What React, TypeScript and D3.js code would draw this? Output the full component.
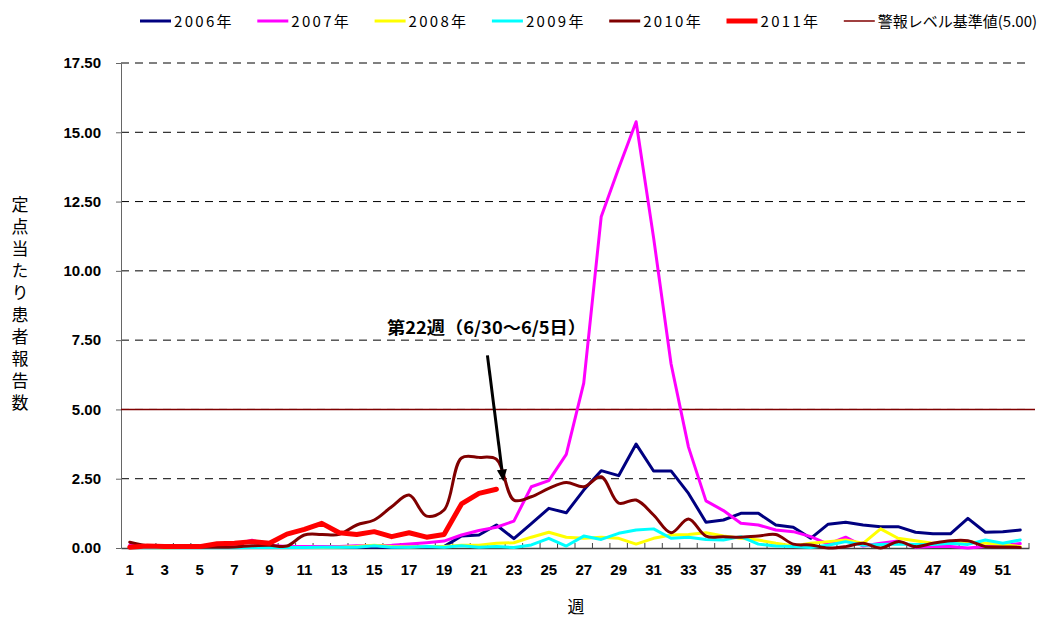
import { useEffect, useRef } from "react";
import * as d3 from "d3";

const WIDTH = 1037;
const HEIGHT = 617;
const PLOT = { left: 121, right: 1029, top: 63, bottom: 548 };

const JP_FONT = "'Noto Sans CJK JP', 'Noto Sans', sans-serif";
const NUM_FONT = "'Liberation Sans', Arial, sans-serif";

// categories / ticks
const WEEKS = [
  1, 2, 3, 4, 5, 6, 7, 8, 9, 10, 11, 12, 13, 14, 15, 16, 17, 18, 19, 20, 21, 22, 23, 24, 25, 26,
  27, 28, 29, 30, 31, 32, 33, 34, 35, 36, 37, 38, 39, 40, 41, 42, 43, 44, 45, 46, 47, 48, 49, 50, 51, 52,
];
const X_TICK_LABELS = [1, 3, 5, 7, 9, 11, 13, 15, 17, 19, 21, 23, 25, 27, 29, 31, 33, 35, 37, 39, 41, 43, 45, 47, 49, 51];
const Y_TICKS = [0, 2.5, 5, 7.5, 10, 12.5, 15, 17.5];
const ALERT_LEVEL = 5;

// series values (per-sentinel reports, weeks 1..52)
const Y2006 = [
  0.03, 0.02, 0.02, 0.03, 0.02, 0.02, 0.03, 0.02, 0.02, 0.03, 0.02, 0.03, 0.02, 0.03, 0.03, 0.02, 0.03, 0.04,
  0.05, 0.43, 0.47, 0.83, 0.34, 0.88, 1.43, 1.27, 2.09, 2.79, 2.61, 3.75, 2.78, 2.78, 1.97, 0.93, 1.01, 1.25,
  1.25, 0.83, 0.75, 0.35, 0.86, 0.93, 0.83, 0.77, 0.77, 0.57, 0.51, 0.51, 1.07, 0.57, 0.59, 0.65,
];
const Y2007 = [
  0.1, 0.08, 0.08, 0.08, 0.08, 0.1, 0.12, 0.28, 0.1, 0.05, 0.05, 0.05, 0.05, 0.08, 0.08, 0.1, 0.14, 0.19,
  0.25, 0.47, 0.63, 0.75, 0.97, 2.21, 2.43, 3.38, 5.95, 11.95, 13.7, 15.38, 11.2, 6.65, 3.64, 1.7, 1.35, 0.89,
  0.83, 0.65, 0.59, 0.41, 0.14, 0.39, 0.07, 0.17, 0.25, 0.03, 0.05, 0.05, 0.0, 0.05, 0.08, 0.16,
];
const Y2008 = [
  0.02, 0.02, 0.01, 0.02, 0.02, 0.03, 0.03, 0.02, 0.03, 0.02, 0.02, 0.02, 0.03, 0.05, 0.1, 0.05, 0.04, 0.05,
  0.05, 0.1, 0.1, 0.17, 0.19, 0.39, 0.57, 0.39, 0.35, 0.39, 0.35, 0.14, 0.35, 0.47, 0.49, 0.55, 0.43, 0.35,
  0.29, 0.17, 0.07, 0.17, 0.23, 0.29, 0.17, 0.69, 0.35, 0.26, 0.17, 0.17, 0.23, 0.17, 0.13, 0.05,
];
const Y2009 = [
  0.01, 0.01, 0.01, 0.01, 0.01, 0.01, 0.01, 0.02, 0.02, 0.02, 0.02, 0.03, 0.03, 0.03, 0.08, 0.03, 0.03, 0.05,
  0.03, 0.08, 0.03, 0.05, 0.02, 0.11, 0.35, 0.07, 0.43, 0.31, 0.53, 0.65, 0.69, 0.35, 0.39, 0.31, 0.29, 0.41,
  0.14, 0.07, 0.05, 0.02, 0.1, 0.23, 0.1, 0.13, 0.14, 0.13, 0.13, 0.17, 0.13, 0.29, 0.17, 0.29,
];
const Y2010 = [
  0.21, 0.08, 0.05, 0.04, 0.03, 0.03, 0.04, 0.08, 0.1, 0.07, 0.47, 0.49, 0.49, 0.83, 1.01, 1.49, 1.91, 1.15,
  1.37, 3.25, 3.27, 3.2, 1.73, 1.85, 2.15, 2.36, 2.21, 2.57, 1.62, 1.73, 1.19, 0.55, 1.05, 0.43, 0.41, 0.39,
  0.43, 0.49, 0.14, 0.11, 0.0, 0.05, 0.17, 0.0, 0.23, 0.05, 0.17, 0.26, 0.26, 0.05, 0.04, 0.02,
];
const Y2011 = [
  0.03, 0.07, 0.05, 0.05, 0.05, 0.15, 0.17, 0.23, 0.17, 0.5, 0.67, 0.89, 0.55, 0.49, 0.59, 0.41, 0.55, 0.39,
  0.49, 1.59, 1.97, 2.12,
];

type Series = { name: string; values: number[]; color: string; width: number; smooth: boolean };

const SERIES: Series[] = [
  { name: "2006年", values: Y2006, color: "#000080", width: 3, smooth: false },
  { name: "2007年", values: Y2007, color: "#ff00ff", width: 3, smooth: false },
  { name: "2008年", values: Y2008, color: "#ffff00", width: 3, smooth: false },
  { name: "2009年", values: Y2009, color: "#00ffff", width: 3, smooth: false },
  { name: "2010年", values: Y2010, color: "#800000", width: 3, smooth: true },
  { name: "2011年", values: Y2011, color: "#ff0000", width: 5, smooth: false },
];
const ALERT_NAME = "警報レベル基準値(5.00)";
const Y_TITLE = "定点当たり患者報告数";
const X_TITLE = "週";
const NOTE = "第22週（6/30～6/5日）";

export default function App() {
  const svgRef = useRef<SVGSVGElement | null>(null);

  useEffect(() => {
    document.body.style.margin = "0";
    if (!svgRef.current) return;
    const svg = d3.select(svgRef.current);
    svg.selectAll("*").remove();

    const x = d3
      .scaleBand<number>()
      .domain(WEEKS)
      .range([PLOT.left, PLOT.right])
      .padding(0);
    const xc = (w: number) => (x(w) ?? 0) + x.bandwidth() / 2;

    const y = d3.scaleLinear().domain([0, 17.5]).range([PLOT.bottom, PLOT.top]);

    // dashed gridlines
    svg
      .append("g")
      .selectAll("line")
      .data(Y_TICKS.filter((t) => t > 0))
      .enter()
      .append("line")
      .attr("x1", PLOT.left)
      .attr("x2", PLOT.right)
      .attr("y1", (d) => y(d))
      .attr("y2", (d) => y(d))
      .attr("stroke", "#000")
      .attr("stroke-width", 1)
      .attr("stroke-dasharray", "8,6");

    // y axis
    const yAxis = svg
      .append("g")
      .attr("transform", `translate(${PLOT.left},0)`)
      .call(
        d3
          .axisLeft(y)
          .tickValues(Y_TICKS)
          .tickSize(5)
          .tickSizeOuter(0)
          .tickPadding(15)
          .tickFormat((v) => d3.format(".2f")(Number(v))),
      );
    yAxis.selectAll("path").attr("stroke", "#666");
    yAxis.selectAll("line").attr("stroke", "#666");
    yAxis
      .selectAll("text")
      .attr("fill", "#000")
      .style("font-family", NUM_FONT)
      .style("font-weight", "bold")
      .style("font-size", "15px");

    // x axis
    const xAxis = svg
      .append("g")
      .attr("transform", `translate(0,${PLOT.bottom})`)
      .call(
        d3
          .axisBottom(x)
          .tickValues(X_TICK_LABELS)
          .tickSize(0)
          .tickSizeOuter(0)
          .tickPadding(16),
      );
    xAxis.selectAll("path").attr("stroke", "#444").attr("stroke-width", 1.5);
    xAxis
      .selectAll("text")
      .attr("fill", "#000")
      .style("font-family", NUM_FONT)
      .style("font-weight", "bold")
      .style("font-size", "15px");

    // category boundary tick marks (inside)
    svg
      .append("g")
      .selectAll("line")
      .data(WEEKS)
      .enter()
      .append("line")
      .attr("x1", (d) => (x(d) ?? 0) + x.bandwidth())
      .attr("x2", (d) => (x(d) ?? 0) + x.bandwidth())
      .attr("y1", PLOT.bottom)
      .attr("y2", PLOT.bottom - 5)
      .attr("stroke", "#444");

    // alert level line
    svg
      .append("line")
      .attr("x1", PLOT.left)
      .attr("x2", PLOT.right + 6)
      .attr("y1", y(ALERT_LEVEL))
      .attr("y2", y(ALERT_LEVEL))
      .attr("stroke", "#800000")
      .attr("stroke-width", 1.5);

    // series
    SERIES.forEach((s) => {
      const line = d3
        .line<number>()
        .x((_, i) => xc(WEEKS[i]))
        .y((v) => y(v))
        .curve(s.smooth ? d3.curveCatmullRom.alpha(0.5) : d3.curveLinear);
      svg
        .append("path")
        .datum(s.values)
        .attr("d", line)
        .attr("fill", "none")
        .attr("stroke", s.color)
        .attr("stroke-width", s.width)
        .attr("stroke-linejoin", "round")
        .attr("stroke-linecap", "round");
    });

    // annotation arrow
    const ax0 = xc(22) - 9;
    const ay0 = y(6.95);
    const ax1 = xc(22) + 7;
    const ay1 = y(2.4);
    const ang = Math.atan2(ay1 - ay0, ax1 - ax0);
    const headLen = 12;
    const headW = 5;
    const bx = ax1 - headLen * Math.cos(ang);
    const by = ay1 - headLen * Math.sin(ang);
    svg
      .append("line")
      .attr("x1", ax0)
      .attr("y1", ay0)
      .attr("x2", bx)
      .attr("y2", by)
      .attr("stroke", "#000")
      .attr("stroke-width", 3);
    svg
      .append("polygon")
      .attr(
        "points",
        [
          [ax1, ay1],
          [bx + headW * Math.sin(ang), by - headW * Math.cos(ang)],
          [bx - headW * Math.sin(ang), by + headW * Math.cos(ang)],
        ]
          .map((p) => p.join(","))
          .join(" "),
      )
      .attr("fill", "#000");

    svg
      .append("text")
      .attr("x", 387)
      .attr("y", 334)
      .attr("textLength", 199)
      .attr("lengthAdjust", "spacingAndGlyphs")
      .style("font-family", JP_FONT)
      .style("font-weight", "bold")
      .style("font-size", "17px")
      .attr("fill", "#000")
      .text(NOTE);

    // y title (vertical, one text element)
    svg
      .append("text")
      .attr("x", 20)
      .attr("y", 196)
      .style("writing-mode", "vertical-rl")
      .style("font-family", JP_FONT)
      .style("font-size", "17px")
      .style("letter-spacing", "5px")
      .attr("fill", "#000")
      .text(Y_TITLE);

    // x title
    svg
      .append("text")
      .attr("x", 576)
      .attr("y", 613)
      .attr("text-anchor", "middle")
      .style("font-family", JP_FONT)
      .style("font-size", "17px")
      .attr("fill", "#000")
      .text(X_TITLE);

    // legend
    const legendItems = [
      ...SERIES.map((s) => ({ name: s.name, color: s.color, width: s.width, spacing: 2.3 })),
      { name: ALERT_NAME, color: "#800000", width: 1.5, spacing: 0 },
    ];
    const legend = svg.append("g");
    legendItems.forEach((d, i) => {
      const lx = 140 + i * 117.3;
      legend
        .append("line")
        .attr("x1", lx)
        .attr("x2", lx + 31)
        .attr("y1", 21)
        .attr("y2", 21)
        .attr("stroke", d.color)
        .attr("stroke-width", d.width);
      legend
        .append("text")
        .attr("x", lx + 34)
        .attr("y", 27)
        .style("font-family", JP_FONT)
        .style("font-size", "15px")
        .style("letter-spacing", `${d.spacing}px`)
        .attr("fill", "#000")
        .text(d.name);
    });
  }, []);

  return <svg ref={svgRef} width={WIDTH} height={HEIGHT} style={{ display: "block", background: "#fff" }} />;
}
